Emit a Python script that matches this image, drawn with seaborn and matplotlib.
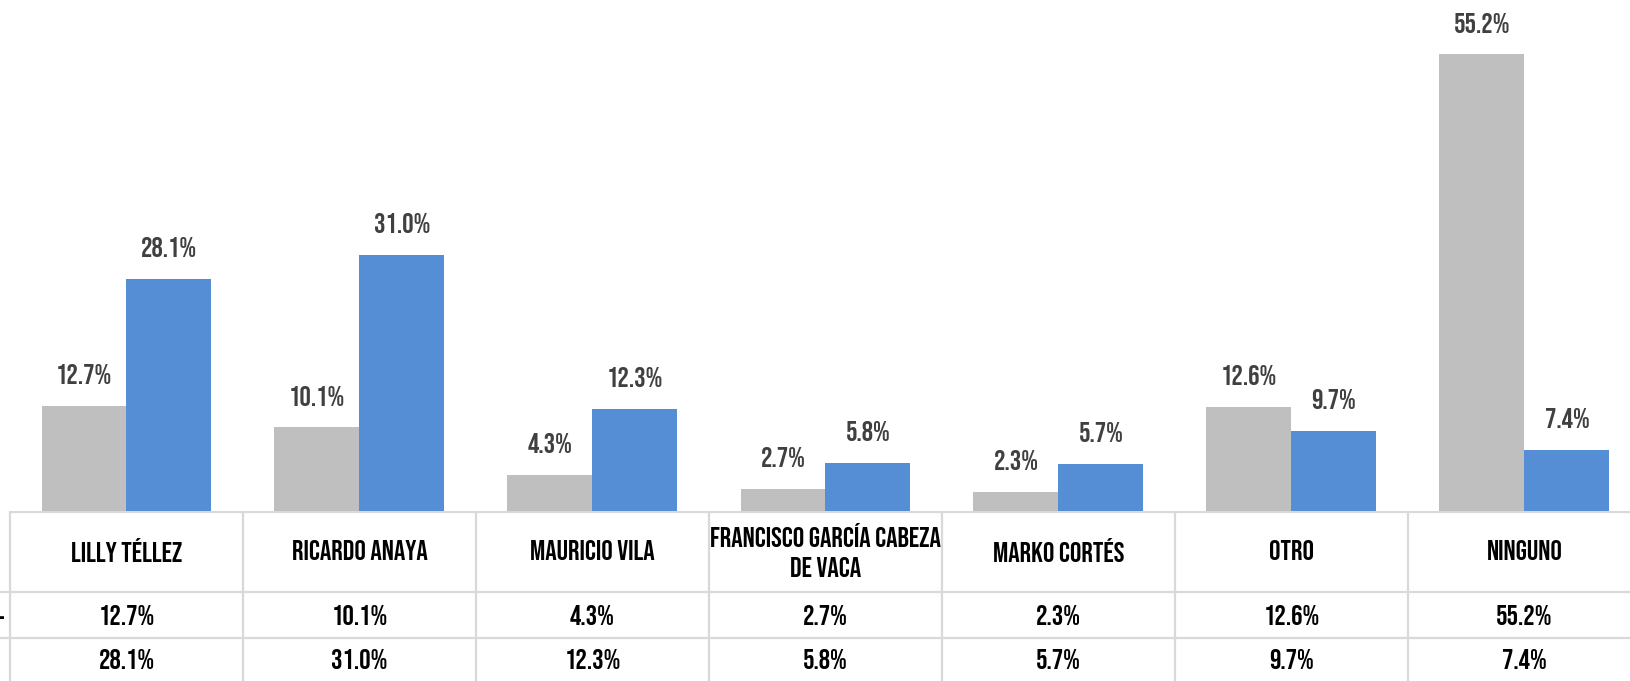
import matplotlib
matplotlib.use("Agg")
import matplotlib.pyplot as plt
from matplotlib import font_manager as fm
import seaborn as sns
import pandas as pd

categories = ["LILLY TÉLLEZ", "RICARDO ANAYA", "MAURICIO VILA",
              "FRANCISCO GARCÍA CABEZA\nDE VACA", "MARKO CORTÉS", "OTRO", "NINGUNO"]
serie_gris = [12.7, 10.1, 4.3, 2.7, 2.3, 12.6, 55.2]
serie_azul = [28.1, 31.0, 12.3, 5.8, 5.7, 9.7, 7.4]
series = ["Serie 1", "Serie 2"]

sns.set_theme(style="white")
available = {f.name for f in fm.fontManager.ttflist}
fam = next((f for f in ["Bebas Neue", "Oswald", "Fjalla One",
                        "Fira Sans Extra Condensed", "DejaVu Sans"] if f in available),
           "DejaVu Sans")
plt.rcParams['font.family'] = [fam, 'DejaVu Sans']
bold = "normal" if fam in ("Bebas Neue", "Fjalla One") else "bold"

df = pd.DataFrame({
    "cat": categories * 2,
    "serie": [series[0]] * len(categories) + [series[1]] * len(categories),
    "val": serie_gris + serie_azul,
})

W, H = 1631, 681
fig = plt.figure(figsize=(W / 100, H / 100), dpi=100)
base = 511          # pixel row of baseline / table top
colw = 233.0        # pixel width of one category column
c0 = 126.5          # pixel center of first category
xl = (-c0 / colw, (W - c0) / colw)

ax = fig.add_axes([0, (H - base) / H, 1, base / H])
sns.barplot(data=df, x="cat", y="val", hue="serie", order=categories,
            hue_order=series, palette=["#bfbfbf", "#558ed5"],
            width=170 / colw, gap=0, ax=ax, legend=False, saturation=1,
            edgecolor="none")
ax.set_xlim(*xl)
ax.set_ylim(0, base / 8.27)
ax.axis("off")

fs = 20.5
for cont in ax.containers:
    for bar in cont:
        h = bar.get_height()
        ax.annotate(f"{h:.1f}%", (bar.get_x() + bar.get_width() / 2, h),
                    xytext=(0, 23), textcoords="offset points",
                    ha="center", va="center", fontsize=fs,
                    fontweight=bold, color="#404040")

# data table
tab = fig.add_axes([0, 0, 1, (H - base) / H])
tab.set_xlim(*xl)
tab.set_ylim(H, base)
tab.axis("off")
lc = "#d9d9d9"
lw = 1.6
n = len(categories)
tab.plot([-0.5, xl[1]], [base + 1, base + 1], color=lc, lw=lw, solid_capstyle="butt")
for yy in (592, 638):
    tab.plot([xl[0], xl[1]], [yy, yy], color=lc, lw=lw, solid_capstyle="butt")
for i in range(n + 1):
    tab.plot([i - 0.5, i - 0.5], [base, H], color=lc, lw=lw, solid_capstyle="butt")

for i, c in enumerate(categories):
    tab.text(i, 550, c, ha="center", va="center", fontsize=fs,
             fontweight=bold, color="black", linespacing=1.5)
    tab.text(i, 615, f"{serie_gris[i]:.1f}%", ha="center", va="center",
             fontsize=fs, fontweight=bold, color="black")
    tab.text(i, 659, f"{serie_azul[i]:.1f}%", ha="center", va="center",
             fontsize=fs, fontweight=bold, color="black")
tab.text(xl[0] + 4 / colw, 617, "-", ha="right", va="center", fontsize=fs,
         fontweight=bold, color="black")

fig.savefig("out.png", dpi=100)
